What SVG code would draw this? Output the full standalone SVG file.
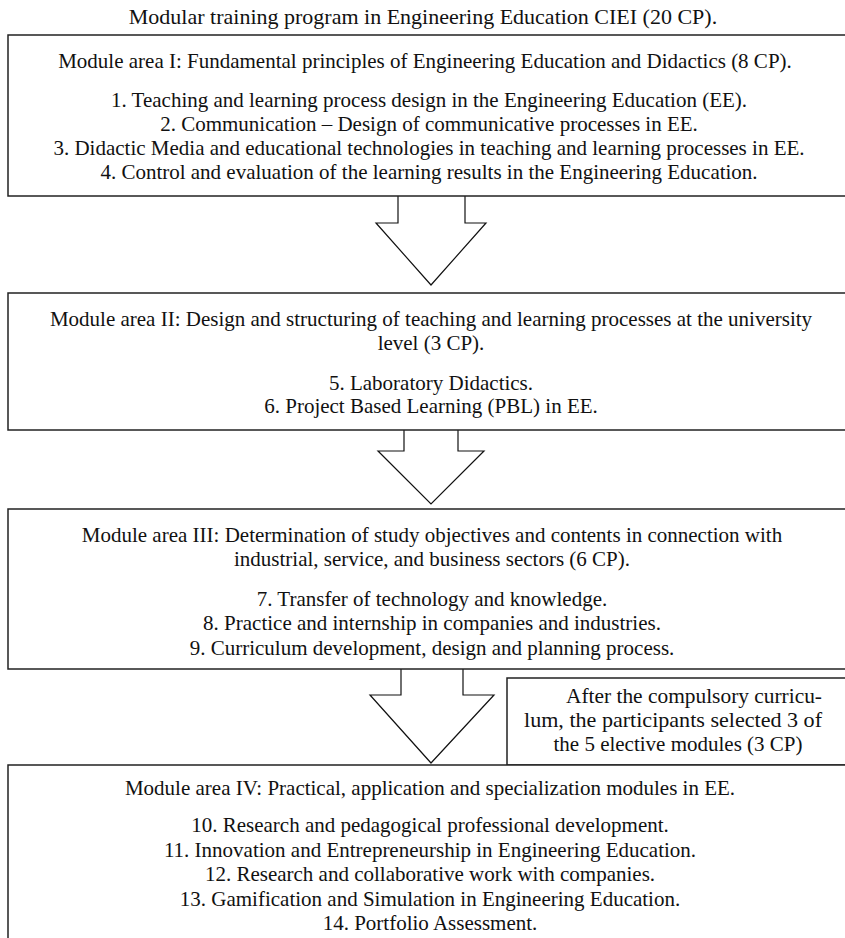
<svg xmlns="http://www.w3.org/2000/svg" width="845" height="938" viewBox="0 0 845 938">
<style>
  .box { fill: #fff; stroke: #222; stroke-width: 1.5; }
  .arrow { fill: #fff; stroke: #111; stroke-width: 1.2; stroke-linejoin: miter; }
  text { font-family: "Liberation Serif", "Times New Roman", serif; font-size: 21px; fill: #111; }
  .c { text-anchor: middle; }
  .t { font-size: 22px; }
</style>
<rect width="845" height="938" fill="#fff"/>
<text id="title" class="c t" x="423" y="24">Modular training program in Engineering Education CIEI (20 CP).</text>

<g id="connectors">
  <path class="arrow" d="M398,196 L398,223 L376,223 L431,285 L486,223 L465,223 L465,196"/>
  <path class="arrow" d="M404,430 L404,451 L378,451 L431,504 L484,451 L458,451 L458,430"/>
  <path class="arrow" d="M401,669 L401,695 L370,695 L431,763 L494,695 L463,695 L463,669"/>
</g>

<g id="area1">
  <rect class="box" x="8" y="35" width="850" height="161"/>
  <text class="c" x="425" y="68">Module area I: Fundamental principles of Engineering Education and Didactics (8 CP).</text>
  <text class="c" x="429" y="107">1. Teaching and learning process design in the Engineering Education (EE).</text>
  <text class="c" x="429" y="131">2. Communication – Design of communicative processes in EE.</text>
  <text class="c" x="429" y="155">3. Didactic Media and educational technologies in teaching and learning processes in EE.</text>
  <text class="c" x="429" y="179">4. Control and evaluation of the learning results in the Engineering Education.</text>
</g>

<g id="area2">
  <rect class="box" x="8" y="293" width="850" height="137"/>
  <text class="c" x="431" y="326">Module area II: Design and structuring of teaching and learning processes at the university</text>
  <text class="c" x="431" y="350">level (3 CP).</text>
  <text class="c" x="431" y="390">5. Laboratory Didactics.</text>
  <text class="c" x="431" y="413">6. Project Based Learning (PBL) in EE.</text>
</g>

<g id="area3">
  <rect class="box" x="8" y="509" width="850" height="160"/>
  <text class="c" x="432" y="542">Module area III: Determination of study objectives and contents in connection with</text>
  <text class="c" x="432" y="566">industrial, service, and business sectors (6 CP).</text>
  <text class="c" x="432" y="606">7. Transfer of technology and knowledge.</text>
  <text class="c" x="432" y="630">8. Practice and internship in companies and industries.</text>
  <text class="c" x="432" y="655">9. Curriculum development, design and planning process.</text>
</g>

<g id="note">
  <rect class="box" x="507" y="678" width="350" height="87"/>
  <text x="566" y="703" textLength="256" lengthAdjust="spacingAndGlyphs">After the compulsory curricu-</text>
  <text x="524" y="727" textLength="298" lengthAdjust="spacingAndGlyphs">lum, the participants selected 3 of</text>
  <text class="c" x="678" y="751">the 5 elective modules (3 CP)</text>
</g>

<g id="area4">
  <rect class="box" x="8" y="765" width="850" height="190"/>
  <text class="c" x="430" y="795">Module area IV: Practical, application and specialization modules in EE.</text>
  <text class="c" x="430" y="832">10. Research and pedagogical professional development.</text>
  <text class="c" x="430" y="857">11. Innovation and Entrepreneurship in Engineering Education.</text>
  <text class="c" x="430" y="881">12. Research and collaborative work with companies.</text>
  <text class="c" x="430" y="906">13. Gamification and Simulation in Engineering Education.</text>
  <text class="c" x="430" y="930">14. Portfolio Assessment.</text>
</g>
</svg>
